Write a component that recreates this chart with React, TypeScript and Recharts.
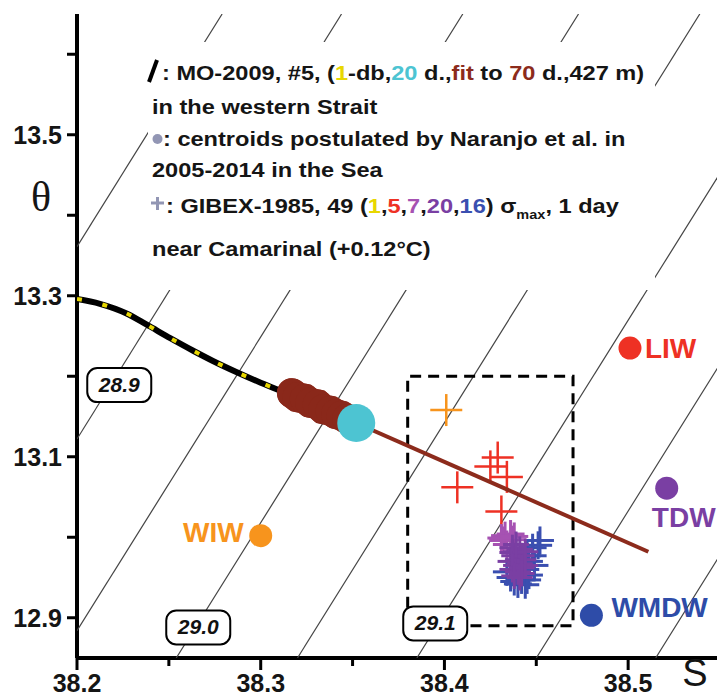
import { ScatterChart, Scatter, XAxis, YAxis } from "recharts"

const FONT = '"Liberation Sans", Arial, sans-serif'

// MO-2009, #5, 1-db profile (salinity, potential temperature)
const moSal = [38.2, 38.2125, 38.227, 38.238, 38.251, 38.263, 38.274, 38.287, 38.3, 38.313]
const moTheta = [13.296, 13.29, 13.278, 13.264, 13.247, 13.232, 13.219, 13.205, 13.192, 13.18]

// daily means, 70 d.
const dailySal = [38.317, 38.32, 38.324, 38.327, 38.331, 38.334, 38.338, 38.341, 38.344, 38.347]
const dailyTheta = [13.179, 13.174, 13.172, 13.167, 13.165, 13.159, 13.157, 13.153, 13.151, 13.147]

// 20 d. mean
const meanSal = [38.352]
const meanTheta = [13.142]

// fit to 70 d.
const fitSal = [38.317, 38.511]
const fitTheta = [13.177, 12.982]

// GIBEX-1985 sigma max near Camarinal
const gibexOrangeSal = [38.401]
const gibexOrangeTheta = [13.158]
const gibexRedSal = [38.407, 38.425, 38.429, 38.434, 38.431]
const gibexRedTheta = [13.062, 13.088, 13.099, 13.075, 13.032]
const gibexMagentaSal = [38.433, 38.436, 38.432, 38.437, 38.434, 38.431, 38.438]
const gibexMagentaTheta = [13.002, 13.004, 12.996, 12.997, 12.991, 12.999, 13.001]
const gibexPurpleSal = [38.437, 38.439, 38.441, 38.438, 38.44, 38.442, 38.436, 38.439, 38.441, 38.443,
  38.437, 38.44, 38.442, 38.444, 38.438, 38.441, 38.437, 38.444, 38.439, 38.442]
const gibexPurpleTheta = [12.987, 12.982, 12.985, 12.977, 12.972, 12.977, 12.97, 12.965, 12.967, 12.972,
  12.96, 12.957, 12.962, 12.965, 12.952, 12.95, 12.981, 12.982, 12.991, 12.955]
const gibexBlueSal = [38.452, 38.451, 38.448, 38.445, 38.446, 38.444, 38.446, 38.442,
  38.438, 38.436, 38.434, 38.444, 38.449, 38.448, 38.44, 38.445]
const gibexBlueTheta = [12.996, 12.99, 12.987, 12.977, 12.97, 12.96, 12.953, 12.947,
  12.945, 12.95, 12.957, 12.941, 12.965, 12.977, 12.942, 12.947]

// centroids (Naranjo et al.)
const centroidNames = ["LIW", "TDW", "WMDW", "WIW"]
const centroidSal = [38.501, 38.521, 38.48, 38.3]
const centroidTheta = [13.235, 13.061, 12.903, 13.002]

// isopycnals (sigma-theta), segment ends
const isoSigma = [28.85, 28.9, 28.95, 29.0, 29.05, 29.1, 29.15, 29.2]
const isoSal0 = [38.2, 38.2, 38.2, 38.254, 38.32, 38.385, 38.45, 38.515]
const isoTheta0 = [13.361, 13.122, 12.884, 12.85, 12.85, 12.85, 12.85, 12.85]
const isoSal1 = [38.279, 38.344, 38.41, 38.473, 38.539, 38.55, 38.55, 38.55]
const isoTheta1 = [13.65, 13.65, 13.65, 13.65, 13.65, 13.452, 13.215, 12.978]

const isoLabels = ["28.9", "29.0", "29.1"]
const isoLabelSal = [38.223, 38.266, 38.395]
const isoLabelTheta = [13.189, 12.888, 12.893]

// dashed box
const boxSal = [38.38, 38.38, 38.47, 38.47, 38.38]
const boxTheta = [12.89, 13.2, 13.2, 12.89, 12.89]

const xTicks = [38.2, 38.25, 38.3, 38.35, 38.4, 38.45, 38.5]
const xTickLabels = ["38.2", "", "38.3", "", "38.4", "", "38.5"]
const yTicks = [12.9, 13.0, 13.1, 13.2, 13.3, 13.4, 13.5, 13.6]
const yTickLabels = ["12.9", "", "13.1", "", "13.3", "", "13.5", ""]

const zip = (a: number[], b: number[]) => a.map((s, i) => ({ s, t: b[i] }))

const COL = {
  yellow: "#E8D700",
  cyan: "#4DC4D2",
  brown: "#8C2B1C",
  blob: "#8A281A",
  red: "#EE3124",
  orange: "#F7941D",
  magenta: "#A652B2",
  purple: "#7A3FA3",
  blue: "#3A4FB0",
  grey: "#9296B4",
  text: "#151515",
}

const centroidStyle: Record<string, { color: string; dx: number; dy: number; anchor: string }> = {
  LIW: { color: COL.red, dx: 15, dy: 10, anchor: "start" },
  TDW: { color: COL.purple, dx: 17, dy: 39, anchor: "middle" },
  WMDW: { color: "#2E4CA8", dx: 20, dy: 2, anchor: "start" },
  WIW: { color: COL.orange, dx: -17, dy: 6, anchor: "end" },
}

const none = () => <g />

const plus = (color: string, arm: number, w: number) => (p: any) => (
  <g stroke={color} strokeWidth={w}>
    <line x1={p.cx - arm} x2={p.cx + arm} y1={p.cy} y2={p.cy} />
    <line x1={p.cx} x2={p.cx} y1={p.cy - arm} y2={p.cy + arm} />
  </g>
)

const dot = (color: string, r: number) => (p: any) => <circle cx={p.cx} cy={p.cy} r={r} fill={color} />

const CentroidShape = (p: any) => {
  const st = centroidStyle[p.payload.name]
  return (
    <g>
      <circle cx={p.cx} cy={p.cy} r={11.5} fill={st.color} />
      <text x={p.cx + st.dx} y={p.cy + st.dy} textAnchor={st.anchor} fill={st.color}
        fontFamily={FONT} fontWeight="bold" fontSize={28}>{p.payload.name}</text>
    </g>
  )
}

const IsoLabel = (p: any) => (
  <g>
    <rect x={p.cx - 32} y={p.cy - 17} width={64} height={34} rx={10} fill="#fff" stroke="#000" strokeWidth={2} />
    <text x={p.cx} y={p.cy + 7} textAnchor="middle" fontFamily={FONT} fontStyle="italic"
      fontWeight="bold" fontSize={21} fill="#111">{p.payload.label}</text>
  </g>
)

const XTick = (p: any) => {
  const i = xTicks.indexOf(p.payload.value)
  const label = xTickLabels[i]
  const axisY = p.y - 16
  return (
    <g>
      <line x1={p.x} x2={p.x} y1={axisY} y2={axisY + (label ? 12 : 8)} stroke="#000" strokeWidth={3} />
      {label && (
        <text x={p.x} y={axisY + 34} textAnchor="middle" fontFamily={FONT} fontWeight="bold" fontSize={25} fill={COL.text}>
          {label}
        </text>
      )}
    </g>
  )
}

const YTick = (p: any) => {
  const i = yTicks.findIndex((v) => Math.abs(v - p.payload.value) < 1e-6)
  const label = yTickLabels[i]
  const axisX = p.x + 14
  return (
    <g>
      <line x1={axisX - 10} x2={axisX} y1={p.y} y2={p.y} stroke="#000" strokeWidth={3} />
      {label && (
        <text x={axisX - 15} y={p.y + 9} textAnchor="end" fontFamily={FONT} fontWeight="bold" fontSize={25} fill={COL.text}>
          {label}
        </text>
      )}
    </g>
  )
}

const legendText = (x: number, y: number) => ({
  transform: `translate(${x},${y}) scale(1.21,1)`,
  fontFamily: FONT,
  fontWeight: "bold" as const,
  fontSize: 19.5,
  fill: COL.text,
})

const Overlay = () => (
  <svg width={717} height={697} style={{ position: "absolute", left: 0, top: 0, pointerEvents: "none" }}>
    <rect x={148} y={42} width={507} height={248} fill="#fff" />
    <line x1={149} y1={82} x2={157} y2={60} stroke="#000" strokeWidth={4} />
    <text {...legendText(162, 80)}>
      : MO-2009, #5, (<tspan fill={COL.yellow}>1</tspan>-db,<tspan fill={COL.cyan}>20</tspan> d.,<tspan fill={COL.brown}>fit</tspan> to <tspan fill={COL.brown}>70</tspan> d.,427 m)
    </text>
    <text {...legendText(152, 114)}>in the western Strait</text>
    <circle cx={157.5} cy={139} r={5} fill={COL.grey} />
    <text {...legendText(163, 146)}>: centroids postulated by Naranjo et al. in</text>
    <text {...legendText(152, 177)}>2005-2014 in the Sea</text>
    <g stroke={COL.grey} strokeWidth={3}>
      <line x1={151} x2={164} y1={203} y2={203} />
      <line x1={157.5} x2={157.5} y1={197} y2={210} />
    </g>
    <text {...legendText(166, 213)}>
      : GIBEX-1985, 49 (<tspan fill={COL.yellow}>1</tspan>,<tspan fill={COL.red}>5</tspan>,<tspan fill={COL.magenta}>7</tspan>,<tspan fill={COL.purple}>20</tspan>,<tspan fill={COL.blue}>16</tspan>) σ<tspan fontSize={12} dy={6}>max</tspan><tspan dy={-6}>, 1 day</tspan>
    </text>
    <text {...legendText(152, 256)}>near Camarinal (+0.12°C)</text>
    <text x={41} y={211} textAnchor="middle" fontFamily='"Liberation Serif", serif' fontSize={42} fill={COL.text}>θ</text>
    <text x={695} y={686} textAnchor="middle" fontFamily={FONT} fontSize={38} fill={COL.text}>S</text>
  </svg>
)

export default function App() {
  const centroids = centroidNames.map((name, i) => ({ s: centroidSal[i], t: centroidTheta[i], name }))
  const labels = isoLabels.map((label, i) => ({ s: isoLabelSal[i], t: isoLabelTheta[i], label }))
  return (
    <div style={{ position: "absolute", left: 0, top: 0, width: 717, height: 697, overflow: "hidden", background: "#fff" }}>
      <ScatterChart width={760} height={697} margin={{ top: 14, right: 40, bottom: 0, left: 0 }}>
        <XAxis type="number" dataKey="s" domain={[38.2, 38.55]} ticks={xTicks} interval={0} allowDataOverflow
          height={39} axisLine={{ stroke: "#000", strokeWidth: 4 }} tickLine={false} tickSize={12} tickMargin={4} tick={<XTick />} />
        <XAxis xAxisId="top" orientation="top" type="number" domain={[38.2, 38.55]} height={0}
          axisLine={{ stroke: "#000", strokeWidth: 4 }} tick={false} tickLine={false} />
        <YAxis type="number" dataKey="t" domain={[12.85, 13.65]} ticks={yTicks} interval={0} allowDataOverflow
          width={77} axisLine={{ stroke: "#000", strokeWidth: 4 }} tickLine={false} tickSize={10} tickMargin={4} tick={<YTick />} />

        {isoSigma.map((sg, i) => (
          <Scatter key={`iso-${sg}`} data={[{ s: isoSal0[i], t: isoTheta0[i] }, { s: isoSal1[i], t: isoTheta1[i] }]}
            line={{ stroke: "#444", strokeWidth: 1.2 }} shape={none} isAnimationActive={false} />
        ))}
        <Scatter data={zip(boxSal, boxTheta)} line={{ stroke: "#000", strokeWidth: 3, strokeDasharray: "11 7" }}
          shape={none} isAnimationActive={false} />

        <Scatter data={zip(moSal, moTheta)} line={{ stroke: "#000", strokeWidth: 6, strokeLinecap: "round" }}
          lineJointType="monotoneX" shape={none} isAnimationActive={false} />
        <Scatter data={zip(moSal, moTheta)} line={{ stroke: COL.yellow, strokeWidth: 4, strokeDasharray: "5 21" }}
          lineJointType="monotoneX" shape={none} isAnimationActive={false} />

        <Scatter data={zip(gibexOrangeSal, gibexOrangeTheta)} shape={plus(COL.orange, 16, 2.5)} isAnimationActive={false} />
        <Scatter data={zip(gibexRedSal, gibexRedTheta)} shape={plus(COL.red, 16, 2.5)} isAnimationActive={false} />
        <Scatter data={zip(gibexBlueSal, gibexBlueTheta)} shape={plus(COL.blue, 14, 3)} isAnimationActive={false} />
        <Scatter data={zip(gibexMagentaSal, gibexMagentaTheta)} shape={plus(COL.magenta, 14, 3)} isAnimationActive={false} />
        <Scatter data={zip(gibexPurpleSal, gibexPurpleTheta)} shape={plus(COL.purple, 13, 3)} isAnimationActive={false} />

        <Scatter data={zip(fitSal, fitTheta)} line={{ stroke: COL.brown, strokeWidth: 4 }} shape={none} isAnimationActive={false} />
        <Scatter data={zip(dailySal, dailyTheta)} line={{ stroke: COL.blob, strokeWidth: 30, strokeLinecap: "round" }}
          shape={dot(COL.blob, 15)} isAnimationActive={false} />
        <Scatter data={zip(meanSal, meanTheta)} shape={dot(COL.cyan, 19)} isAnimationActive={false} />

        <Scatter data={centroids} shape={CentroidShape} isAnimationActive={false} />
        <Scatter data={labels} shape={IsoLabel} isAnimationActive={false} />
      </ScatterChart>
      <Overlay />
    </div>
  )
}
